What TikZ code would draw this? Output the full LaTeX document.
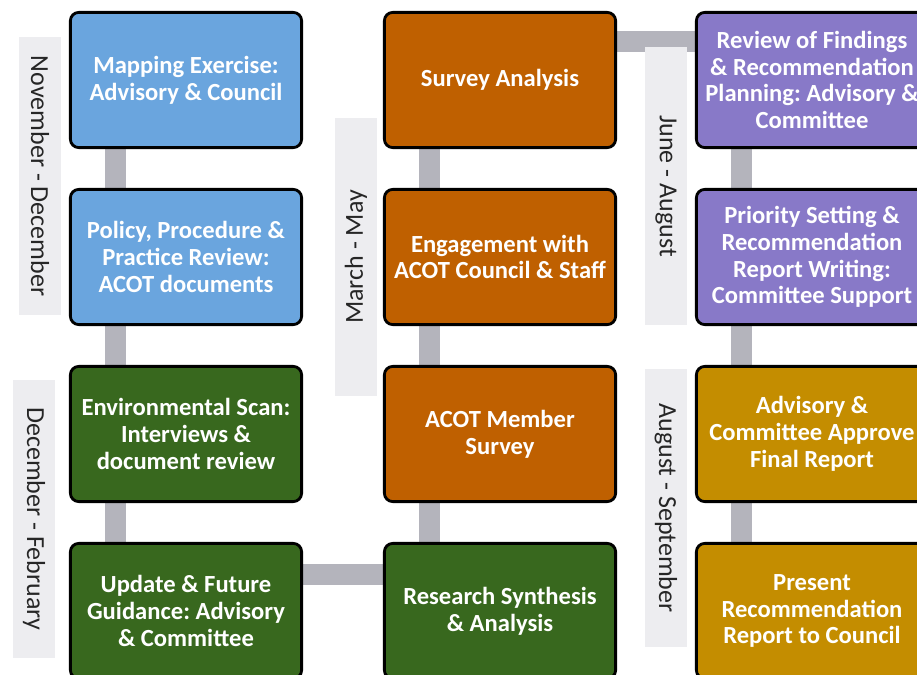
\documentclass[tikz,border=0pt]{standalone}
\usepackage{fontspec}
\setmainfont{Carlito}
\usepackage{tikz}
\usetikzlibrary{positioning, backgrounds}

\definecolor{scopeblue}{RGB}{106,165,222}
\definecolor{scangreen}{RGB}{56,104,30}
\definecolor{surveyorange}{RGB}{191,96,0}
\definecolor{reviewpurple}{RGB}{136,121,200}
\definecolor{reportgold}{RGB}{196,141,0}
\definecolor{linkgray}{RGB}{180,180,188}
\definecolor{stripgray}{RGB}{237,237,240}

\frenchspacing

\begin{document}
\begin{tikzpicture}[x=0.025cm, y=-0.025cm,
    stage/.style={draw=black, line width=2pt, rounded corners=6pt, minimum width=5.78cm, minimum height=3.38cm, inner sep=2pt, align=center, text=white, font=\fontsize{17.5}{19}\selectfont\bfseries},
    scoping/.style={stage, fill=scopeblue},
    scan/.style={stage, fill=scangreen},
    survey/.style={stage, fill=surveyorange},
    review/.style={stage, fill=reviewpurple},
    report/.style={stage, fill=reportgold},
    period/.style={fill=stripgray, minimum width=6.95cm, minimum height=1.07cm, inner sep=0pt, text=black!85, font=\fontsize{18.5}{20}\selectfont},
    link/.style={draw=linkgray, line width=0.525cm},
]
\clip (0,0) rectangle (917,675);

% --- Column 1: scoping and scan ---
\node[scoping] (A1) at (186,80) {Mapping Exercise:\\Advisory \& Council};
\node[scoping] (A2) at (186,257) {Policy, Procedure \&\\Practice Review:\\ACOT documents};
\node[scan] (A3) at (186,434) {Environmental Scan:\\Interviews \&\\document review};
\node[scan] (A4) at (186,611) {Update \& Future\\Guidance: Advisory\\\& Committee};

% --- Column 2: survey work ---
\node[survey] (B1) at (500,80) {Survey Analysis};
\node[survey] (B2) at (500,257) {Engagement with\\ACOT Council \& Staff};
\node[survey] (B3) at (500,434) {ACOT Member\\Survey};
\node[scan] (B4) at (500,611) {Research Synthesis\\\& Analysis};

% --- Column 3: recommendations and report ---
\node[review] (C1) at (812,80) {Review of Findings\\\& Recommendation\\Planning: Advisory \&\\Committee};
\node[review] (C2) at (812,257) {Priority Setting \&\\Recommendation\\Report Writing:\\Committee Support};
\node[report] (C3) at (812,434) {Advisory \&\\Committee Approve\\Final Report};
\node[report] (C4) at (812,611) {Present\\Recommendation\\Report to Council};

% Gray links behind the boxes
\begin{scope}[on background layer]
\foreach \a/\b in {A1/A2, A2/A3, A3/A4, B1/B2, B2/B3, B3/B4, C1/C2, C2/C3, C3/C4}
    \draw[link] ([xshift=-1.77cm]\a.center) -- ([xshift=-1.77cm]\b.center);
\draw[link] ([yshift=0.92cm]A4.center) -- ([yshift=0.92cm]B4.center);
\draw[link] ([yshift=0.95cm]B1.center) -- ([yshift=0.95cm]C1.center);
\end{scope}

% --- Time periods ---
\node[period, rotate=-90] (P1) at (40,176) {November - December};
\node[period, rotate=-90] (P2) at (34,519) {December - February};
\node[period, rotate=90] (P3) at (356,257) {March - May};
\node[period, rotate=-90] (P4) at (666,186) {June - August};
\node[period, rotate=-90] (P5) at (666,508) {August - September};

\end{tikzpicture}
\end{document}
